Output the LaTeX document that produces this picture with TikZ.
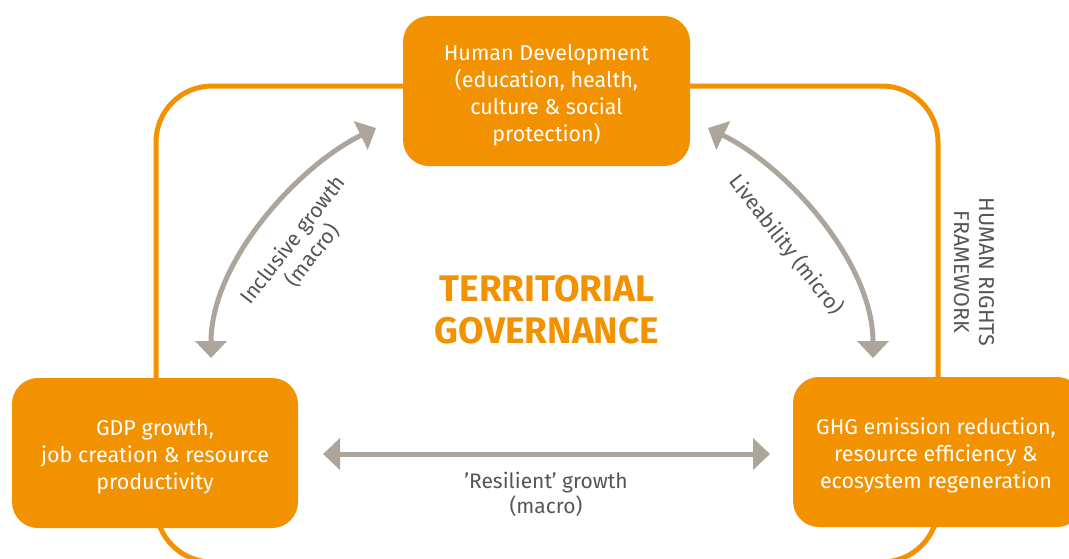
\documentclass[tikz,border=0pt]{standalone}
\usepackage{fontspec}
\setmainfont{Fira Sans}
\usetikzlibrary{arrows.meta}
\definecolor{org}{HTML}{F39200}
\definecolor{arr}{HTML}{ADA59B}
\definecolor{txt}{HTML}{555555}
\tikzset{
  box/.style={fill=org, rounded corners=26pt, inner sep=0pt},
  boxtext/.style={text=white, align=center, inner sep=0pt, font=\fontsize{21.5}{27}\selectfont},
  link/.style={draw=arr, line width=5pt, {Triangle[length=17pt,width=31pt]}-{Triangle[length=17pt,width=31pt]}},
  lbl/.style={text=txt, align=center, font=\fontsize{21}{25}\selectfont},
}
\begin{document}
\begin{tikzpicture}[x=1pt,y=-1pt]
\useasboundingbox (0,0) rectangle (1069,558);
\clip (0,0) rectangle (1069,558);
\fill[white] (0,0) rectangle (1069,558);
% frame
\draw[org, line width=5pt, rounded corners=56pt] (156,86) rectangle (938,562);
% boxes
\node[box, minimum width=287pt, minimum height=150pt] (hd) at (546.5,91) {};
\node[boxtext] (hdt) at (546.5,95)
  {Human Development\\(education, health,\\culture \& social\\protection)};
\node[box, minimum width=286pt, minimum height=150pt] (gdp) at (155,453) {};
\node[boxtext] (gdpt) at (155,457)
  {GDP growth,\\job creation \& resource\\productivity};
\node[box, minimum width=290pt, minimum height=150pt] (ghg) at (938,452) {};
\node[boxtext] (ghgt) at (936,455)
  {GHG emission reduction,\\resource efficiency \&\\ecosystem regeneration};
% title
\node[text=org, align=center, font=\fontsize{37}{42}\bfseries\selectfont] (tg) at (547,310)
  {TERRITORIAL\\GOVERNANCE};
% human rights
\node[text=txt, align=center, rotate=-90, font=\fontsize{21.5}{25}\selectfont] (hr) at (974,272)
  {HUMAN RIGHTS\\FRAMEWORK};
% arrow end points
\coordinate (l1) at (211,358);
\coordinate (l2) at (376,128);
\coordinate (r1) at (873,358);
\coordinate (r2) at (708,128);
\coordinate (h1) at (323,454);
\coordinate (h2) at (770,454);
\draw[link] (l1) .. controls (211,262) and (298,166) .. (l2);
\draw[link] (r1) .. controls (873,262) and (786,166) .. (r2);
\draw[link] (h1) -- (h2);
% labels
\node[lbl, rotate=52] (incl) at (303,248) {Inclusive growth\\(macro)};
\node[lbl, rotate=-52] (live) at (786,245) {Liveability (micro)};
\node[lbl] (res) at (546,494) {'Resilient' growth\\(macro)};
\end{tikzpicture}
\end{document}
